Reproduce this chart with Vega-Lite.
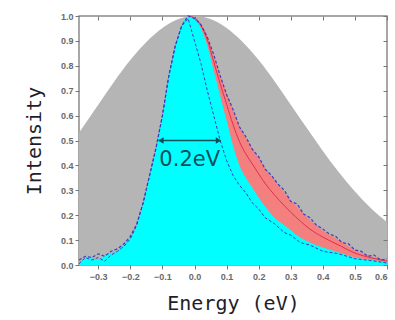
{
  "$schema": "https://vega.github.io/schema/vega-lite/v6.json",
  "width": 308,
  "height": 249,
  "autosize": {"type": "none"},
  "padding": {"left": 79, "top": 16, "right": 8, "bottom": 55},
  "background": "white",
  "config": {
    "view": {"stroke": "#8a8a8a", "strokeWidth": 1.5},
    "axis": {
      "labelFont": "Liberation Sans", "labelFontSize": 9, "labelColor": "#6a6a6a", "labelFontWeight": "bold",
      "tickColor": "#777777", "tickSize": 4, "domain": false, "grid": false,
      "titleFont": "DejaVu Sans Mono", "titleFontWeight": "normal", "titleFontSize": 20, "titleColor": "#1e1e2a"
    }
  },
  "resolve": {"axis": {"x": "independent", "y": "independent"}},
  "datasets": {
    "gray": [
      {"x": -0.36, "y": 0.531}, {"x": -0.3, "y": 0.644}, {"x": -0.25, "y": 0.737}, {"x": -0.2, "y": 0.823},
      {"x": -0.15, "y": 0.896}, {"x": -0.1, "y": 0.952}, {"x": -0.05, "y": 0.988}, {"x": 0.0, "y": 1.0},
      {"x": 0.05, "y": 0.988}, {"x": 0.1, "y": 0.952}, {"x": 0.15, "y": 0.896}, {"x": 0.2, "y": 0.823},
      {"x": 0.25, "y": 0.737}, {"x": 0.3, "y": 0.644}, {"x": 0.35, "y": 0.55}, {"x": 0.4, "y": 0.458},
      {"x": 0.45, "y": 0.372}, {"x": 0.5, "y": 0.295}, {"x": 0.55, "y": 0.228}, {"x": 0.6, "y": 0.172}
    ],
    "red": [
      {"x": -0.36, "y": 0.01}, {"x": -0.33, "y": 0.03}, {"x": -0.3, "y": 0.02}, {"x": -0.28, "y": 0.04},
      {"x": -0.25, "y": 0.05}, {"x": -0.22, "y": 0.08}, {"x": -0.2, "y": 0.11}, {"x": -0.18, "y": 0.16},
      {"x": -0.16, "y": 0.25}, {"x": -0.14, "y": 0.36}, {"x": -0.12, "y": 0.47}, {"x": -0.1, "y": 0.6},
      {"x": -0.08, "y": 0.76}, {"x": -0.06, "y": 0.88}, {"x": -0.04, "y": 0.96}, {"x": -0.02, "y": 1.0},
      {"x": 0.0, "y": 0.995}, {"x": 0.02, "y": 0.97}, {"x": 0.04, "y": 0.92}, {"x": 0.06, "y": 0.84},
      {"x": 0.08, "y": 0.76}, {"x": 0.1, "y": 0.69}, {"x": 0.12, "y": 0.62}, {"x": 0.14, "y": 0.56},
      {"x": 0.16, "y": 0.51}, {"x": 0.18, "y": 0.47}, {"x": 0.2, "y": 0.43}, {"x": 0.22, "y": 0.39},
      {"x": 0.25, "y": 0.34}, {"x": 0.28, "y": 0.29}, {"x": 0.3, "y": 0.26}, {"x": 0.33, "y": 0.22},
      {"x": 0.36, "y": 0.18}, {"x": 0.4, "y": 0.14}, {"x": 0.45, "y": 0.1}, {"x": 0.5, "y": 0.06},
      {"x": 0.55, "y": 0.035}, {"x": 0.6, "y": 0.02}
    ],
    "cyan": [
      {"x": -0.36, "y": 0.01}, {"x": -0.33, "y": 0.03}, {"x": -0.3, "y": 0.02}, {"x": -0.28, "y": 0.04},
      {"x": -0.25, "y": 0.05}, {"x": -0.22, "y": 0.08}, {"x": -0.2, "y": 0.11}, {"x": -0.18, "y": 0.16},
      {"x": -0.16, "y": 0.25}, {"x": -0.14, "y": 0.36}, {"x": -0.12, "y": 0.47}, {"x": -0.1, "y": 0.6},
      {"x": -0.08, "y": 0.76}, {"x": -0.06, "y": 0.88}, {"x": -0.04, "y": 0.96}, {"x": -0.02, "y": 1.0},
      {"x": 0.0, "y": 0.99}, {"x": 0.02, "y": 0.95}, {"x": 0.04, "y": 0.88}, {"x": 0.06, "y": 0.78},
      {"x": 0.08, "y": 0.68}, {"x": 0.1, "y": 0.58}, {"x": 0.12, "y": 0.48}, {"x": 0.14, "y": 0.4},
      {"x": 0.16, "y": 0.35}, {"x": 0.18, "y": 0.31}, {"x": 0.2, "y": 0.27}, {"x": 0.22, "y": 0.235},
      {"x": 0.25, "y": 0.19}, {"x": 0.28, "y": 0.16}, {"x": 0.3, "y": 0.14}, {"x": 0.33, "y": 0.11},
      {"x": 0.36, "y": 0.09}, {"x": 0.4, "y": 0.07}, {"x": 0.45, "y": 0.05}, {"x": 0.5, "y": 0.03},
      {"x": 0.55, "y": 0.02}, {"x": 0.6, "y": 0.01}
    ],
    "mid": [
      {"x": -0.02, "y": 1.0}, {"x": 0.0, "y": 0.993}, {"x": 0.02, "y": 0.962}, {"x": 0.04, "y": 0.904},
      {"x": 0.06, "y": 0.816}, {"x": 0.08, "y": 0.728}, {"x": 0.1, "y": 0.646}, {"x": 0.12, "y": 0.564},
      {"x": 0.14, "y": 0.496}, {"x": 0.16, "y": 0.446}, {"x": 0.18, "y": 0.406}, {"x": 0.2, "y": 0.366},
      {"x": 0.22, "y": 0.328}, {"x": 0.25, "y": 0.28}, {"x": 0.28, "y": 0.238}, {"x": 0.3, "y": 0.212},
      {"x": 0.33, "y": 0.176}, {"x": 0.36, "y": 0.144}, {"x": 0.4, "y": 0.112}, {"x": 0.45, "y": 0.08},
      {"x": 0.5, "y": 0.048}, {"x": 0.55, "y": 0.029}, {"x": 0.6, "y": 0.016}
    ],
    "d1": [
      {"x": -0.36, "y": 0.005}, {"x": -0.34, "y": 0.03}, {"x": -0.32, "y": 0.02}, {"x": -0.3, "y": 0.03},
      {"x": -0.28, "y": 0.015}, {"x": -0.26, "y": 0.04}, {"x": -0.24, "y": 0.055}, {"x": -0.22, "y": 0.075},
      {"x": -0.2, "y": 0.105}, {"x": -0.18, "y": 0.16}, {"x": -0.16, "y": 0.25}, {"x": -0.14, "y": 0.36},
      {"x": -0.12, "y": 0.47}, {"x": -0.1, "y": 0.6}, {"x": -0.08, "y": 0.76}, {"x": -0.06, "y": 0.88},
      {"x": -0.04, "y": 0.96}, {"x": -0.02, "y": 0.99}, {"x": 0.0, "y": 0.9}, {"x": 0.02, "y": 0.81},
      {"x": 0.04, "y": 0.7}, {"x": 0.06, "y": 0.6}, {"x": 0.08, "y": 0.5}, {"x": 0.1, "y": 0.42},
      {"x": 0.12, "y": 0.36}, {"x": 0.14, "y": 0.32}, {"x": 0.16, "y": 0.29}, {"x": 0.18, "y": 0.25},
      {"x": 0.2, "y": 0.225}, {"x": 0.22, "y": 0.19}, {"x": 0.25, "y": 0.165}, {"x": 0.28, "y": 0.13},
      {"x": 0.3, "y": 0.12}, {"x": 0.33, "y": 0.09}, {"x": 0.36, "y": 0.08}, {"x": 0.4, "y": 0.055},
      {"x": 0.45, "y": 0.045}, {"x": 0.5, "y": 0.025}, {"x": 0.55, "y": 0.018}, {"x": 0.6, "y": 0.008}
    ],
    "d2": [
      {"x": -0.36, "y": 0.02}, {"x": -0.34, "y": 0.035}, {"x": -0.32, "y": 0.03}, {"x": -0.3, "y": 0.045},
      {"x": -0.28, "y": 0.035}, {"x": -0.26, "y": 0.055}, {"x": -0.24, "y": 0.065}, {"x": -0.22, "y": 0.085},
      {"x": -0.2, "y": 0.115}, {"x": -0.18, "y": 0.165}, {"x": -0.16, "y": 0.25}, {"x": -0.14, "y": 0.36},
      {"x": -0.12, "y": 0.47}, {"x": -0.1, "y": 0.6}, {"x": -0.08, "y": 0.76}, {"x": -0.06, "y": 0.88},
      {"x": -0.04, "y": 0.96}, {"x": -0.02, "y": 1.0}, {"x": 0.0, "y": 0.99}, {"x": 0.02, "y": 0.965},
      {"x": 0.04, "y": 0.915}, {"x": 0.06, "y": 0.845}, {"x": 0.08, "y": 0.76}, {"x": 0.1, "y": 0.685},
      {"x": 0.12, "y": 0.625}, {"x": 0.14, "y": 0.555}, {"x": 0.16, "y": 0.515}, {"x": 0.18, "y": 0.465},
      {"x": 0.2, "y": 0.435}, {"x": 0.22, "y": 0.385}, {"x": 0.24, "y": 0.36}, {"x": 0.26, "y": 0.325},
      {"x": 0.28, "y": 0.3}, {"x": 0.3, "y": 0.255}, {"x": 0.32, "y": 0.245}, {"x": 0.34, "y": 0.205},
      {"x": 0.36, "y": 0.19}, {"x": 0.38, "y": 0.16}, {"x": 0.4, "y": 0.145}, {"x": 0.42, "y": 0.125},
      {"x": 0.44, "y": 0.115}, {"x": 0.46, "y": 0.09}, {"x": 0.48, "y": 0.085}, {"x": 0.5, "y": 0.06},
      {"x": 0.52, "y": 0.055}, {"x": 0.54, "y": 0.035}, {"x": 0.56, "y": 0.04}, {"x": 0.58, "y": 0.02},
      {"x": 0.6, "y": 0.025}
    ],
    "arrow": [{"x1": -0.11, "x2": 0.08, "y": 0.5}],
    "heads": [{"x": -0.105, "y": 0.5, "dir": "left"}, {"x": 0.075, "y": 0.5, "dir": "right"}],
    "label": [{"x": -0.015, "y": 0.42, "text": "0.2eV"}]
  },
  "layer": [
    {"data": {"name": "gray"}, "mark": {"type": "area", "color": "#b5b5b5", "interpolate": "monotone", "opacity": 1},
      "encoding": {
        "x": {"field": "x", "type": "quantitative", "scale": {"domain": [-0.36, 0.6], "nice": false, "zero": false},
          "axis": {"title": "Energy (eV)", "values": [-0.3, -0.2, -0.1, 0, 0.1, 0.2, 0.3, 0.4, 0.5, 0.6], "format": ".1f", "labelPadding": 3, "titlePadding": 12}},
        "y": {"field": "y", "type": "quantitative", "scale": {"domain": [0, 1], "nice": false},
          "axis": {"title": "Intensity", "values": [0, 0.1, 0.2, 0.3, 0.4, 0.5, 0.6, 0.7, 0.8, 0.9, 1.0], "format": ".1f", "labelPadding": 2, "titlePadding": 16}}
      }},
    {"data": {"name": "red"}, "mark": {"type": "area", "color": "#f47f7f", "interpolate": "monotone", "opacity": 1},
      "encoding": {"x": {"field": "x", "type": "quantitative", "axis": null}, "y": {"field": "y", "type": "quantitative", "axis": null}}},
    {"data": {"name": "cyan"}, "mark": {"type": "area", "color": "#00ffff", "interpolate": "monotone", "opacity": 1},
      "encoding": {"x": {"field": "x", "type": "quantitative", "axis": null}, "y": {"field": "y", "type": "quantitative", "axis": null}}},
    {"data": {"name": "mid"}, "mark": {"type": "line", "color": "#e03050", "strokeWidth": 1, "interpolate": "monotone"},
      "encoding": {"x": {"field": "x", "type": "quantitative", "axis": null}, "y": {"field": "y", "type": "quantitative", "axis": null}}},
    {"data": {"name": "d1"}, "mark": {"type": "line", "color": "#3c3cc0", "strokeWidth": 1, "strokeDash": [3, 2]},
      "encoding": {"x": {"field": "x", "type": "quantitative", "axis": null}, "y": {"field": "y", "type": "quantitative", "axis": null}}},
    {"data": {"name": "d2"}, "mark": {"type": "line", "color": "#3c3cc0", "strokeWidth": 1.2, "strokeDash": [3, 2]},
      "encoding": {"x": {"field": "x", "type": "quantitative", "axis": null}, "y": {"field": "y", "type": "quantitative", "axis": null}}},
    {"data": {"name": "arrow"}, "mark": {"type": "rule", "color": "#0b4f5c", "strokeWidth": 1.5},
      "encoding": {"x": {"field": "x1", "type": "quantitative", "axis": null}, "x2": {"field": "x2"}, "y": {"field": "y", "type": "quantitative", "axis": null}}},
    {"data": {"name": "heads"}, "mark": {"type": "point", "filled": true, "color": "#0b4f5c", "size": 40, "opacity": 1},
      "encoding": {"x": {"field": "x", "type": "quantitative", "axis": null}, "y": {"field": "y", "type": "quantitative", "axis": null},
        "shape": {"field": "dir", "type": "nominal", "scale": {"domain": ["left", "right"], "range": ["triangle-left", "triangle-right"]}, "legend": null}}},
    {"data": {"name": "label"}, "mark": {"type": "text", "font": "DejaVu Sans", "fontSize": 21, "color": "#0b4f5c", "baseline": "middle", "align": "center"},
      "encoding": {
        "x": {"field": "x", "type": "quantitative", "axis": {"orient": "top", "title": null, "labels": false, "tickSize": -4, "zindex": 2, "values": [-0.3, -0.2, -0.1, 0, 0.1, 0.2, 0.3, 0.4, 0.5, 0.6]}},
        "y": {"field": "y", "type": "quantitative", "axis": {"orient": "right", "title": null, "labels": false, "tickSize": -4, "zindex": 2, "values": [0, 0.1, 0.2, 0.3, 0.4, 0.5, 0.6, 0.7, 0.8, 0.9, 1.0]}},
        "text": {"field": "text"}}}
  ]
}
